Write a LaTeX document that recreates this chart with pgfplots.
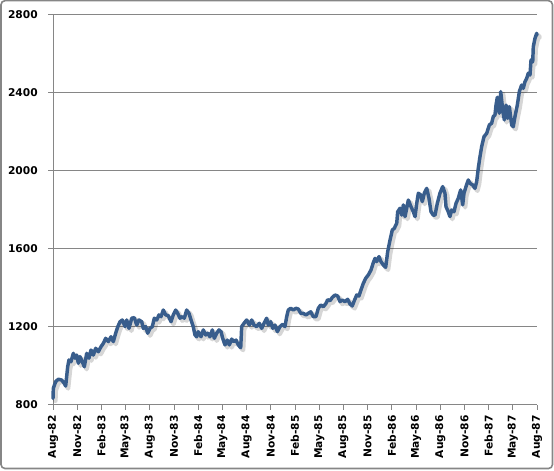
\documentclass[border=0pt]{standalone}
\usepackage{pgfplots}
\pgfplotsset{compat=1.18}
\usepackage{pgfplotstable}
\usepackage{fontspec}
\newfontfamily\labfont{DejaVu Sans}
\definecolor{dowblue}{RGB}{56,93,140}
\definecolor{gridgray}{RGB}{134,134,134}
\pgfplotstableread{
x y
0 834
0.04 885
0.33 920
0.66 932
1.08 928
1.40 911
1.57 897
1.82 996
1.98 1031
2.23 1022
2.52 1065
2.73 1040
2.94 1056
3.14 1014
3.35 1048
3.63 1022
3.88 996
4.18 1065
4.46 1040
4.71 1082
5.00 1056
5.29 1091
5.62 1073
5.95 1099
6.24 1116
6.53 1142
6.86 1125
7.19 1150
7.48 1125
7.77 1168
8.02 1200
8.31 1227
8.59 1236
8.93 1202
9.14 1236
9.42 1193
9.76 1245
10.08 1248
10.38 1210
10.66 1236
11.00 1227
11.19 1193
11.49 1202
11.74 1168
12.02 1193
12.31 1202
12.56 1245
12.86 1236
13.14 1262
13.39 1253
13.67 1287
13.97 1262
14.29 1258
14.63 1227
14.91 1262
15.21 1287
15.46 1270
15.74 1245
16.03 1253
16.28 1245
16.57 1287
16.86 1270
17.11 1236
17.39 1202
17.60 1159
17.81 1150
18.01 1176
18.35 1150
18.63 1185
18.93 1159
19.18 1168
19.46 1150
19.75 1185
20.00 1142
20.29 1168
20.58 1185
20.83 1176
21.04 1142
21.32 1108
21.61 1133
21.86 1108
22.15 1138
22.44 1125
22.69 1133
22.97 1108
23.27 1094
23.39 1202
23.68 1219
24.01 1236
24.34 1210
24.63 1236
24.92 1210
25.25 1202
25.57 1219
25.87 1193
26.16 1219
26.49 1245
26.69 1210
26.99 1227
27.24 1193
27.52 1210
27.81 1176
28.14 1202
28.48 1214
28.76 1202
28.97 1253
29.17 1287
29.47 1296
29.79 1287
30.12 1296
30.41 1292
30.71 1270
31.03 1270
31.36 1262
31.65 1270
31.95 1278
32.27 1253
32.60 1253
32.89 1296
33.19 1313
33.51 1304
33.84 1321
34.05 1340
34.34 1335
34.63 1352
34.96 1364
35.29 1359
35.58 1330
35.86 1338
36.20 1330
36.53 1342
36.82 1318
37.10 1308
37.35 1335
37.65 1364
37.93 1359
38.18 1390
38.47 1424
38.77 1450
39.09 1467
39.42 1492
39.71 1530
39.92 1552
40.13 1535
40.41 1561
40.66 1535
40.95 1518
41.24 1506
41.49 1586
41.78 1646
42.06 1697
42.31 1706
42.61 1732
42.73 1791
43.02 1809
43.23 1774
43.43 1826
43.64 1766
43.85 1809
44.05 1851
44.38 1817
44.67 1791
44.88 1766
45.09 1834
45.29 1886
45.58 1877
45.78 1843
46.03 1886
46.33 1911
46.61 1860
46.86 1791
47.14 1774
47.36 1774
47.64 1834
47.97 1886
48.31 1920
48.59 1886
48.72 1817
49.00 1791
49.21 1766
49.42 1800
49.71 1791
49.96 1834
50.24 1860
50.54 1903
50.79 1826
50.95 1886
51.20 1920
51.48 1954
51.69 1937
52.03 1928
52.31 1911
52.52 1945
52.72 2014
52.93 2073
53.14 2125
53.43 2176
53.76 2193
54.09 2236
54.38 2245
54.58 2279
54.79 2287
54.92 2338
55.08 2378
55.33 2296
55.50 2407
55.75 2313
55.95 2262
56.16 2338
56.37 2270
56.57 2330
56.86 2236
57.06 2227
57.27 2279
57.56 2338
57.81 2407
58.10 2441
58.30 2424
58.51 2458
58.72 2475
58.92 2501
59.13 2492
59.26 2569
59.47 2560
59.54 2637
59.75 2680
59.96 2706
60.00 2697
}\dow
\begin{document}
\begin{tikzpicture}
\begin{scope}[x=0.75pt,y=0.75pt]
\useasboundingbox (0,0) rectangle (554,471);
\draw[gridgray, line width=1.2pt, rounded corners=3pt] (1,2.5) rectangle (552.5,470.3);
\end{scope}
\begin{axis}[
  at={(39.75pt,49.5pt)}, anchor=south west,
  scale only axis, width=363pt, height=292.5pt,
  xmin=0, xmax=60, ymin=800, ymax=2800,
  axis x line*=bottom, axis y line*=left,
  axis line style={gridgray, line width=0.75pt},
  xtick={0,3,...,60},
  xticklabels={Aug-82,Nov-82,Feb-83,May-83,Aug-83,Nov-83,Feb-84,May-84,Aug-84,Nov-84,Feb-85,May-85,Aug-85,Nov-85,Feb-86,May-86,Aug-86,Nov-86,Feb-87,May-87,Aug-87},
  ytick={800,1200,...,2800},
  tick align=outside, major tick length=3.75pt,
  tick style={gridgray, line width=0.75pt},
  ymajorgrids, major grid style={gridgray, line width=0.75pt},
  /pgf/number format/assume math mode=true,
  /pgf/number format/1000 sep={},
  tick label style={font=\labfont\bfseries\fontsize{8}{9}\selectfont, black},
  xticklabel style={rotate=90, anchor=east, inner sep=0pt, xshift=-3.75pt},
  yticklabel style={anchor=east, inner sep=0pt, xshift=-7.5pt},
  clip=false,
]
\addplot[black, opacity=0.16, line width=3.4pt, line join=round, line cap=round, xshift=1.8pt, yshift=-1.8pt] table[x=x,y=y] {\dow};
\addplot[dowblue, line width=2.6pt, line join=round, line cap=round] table[x=x,y=y] {\dow};
\end{axis}
\end{tikzpicture}
\end{document}
